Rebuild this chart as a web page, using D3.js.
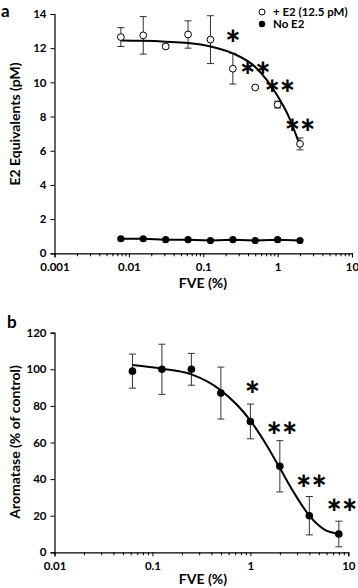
<!DOCTYPE html>
<html>
<head>
<meta charset="utf-8">
<script src="https://cdn.jsdelivr.net/npm/d3@7"></script>
<style>
  html, body { margin: 0; padding: 0; background: #fff; }
  svg { display: block; font-family: Lato, "Open Sans", sans-serif; font-weight: bold; }
</style>
</head>
<body>
<div id="chart"></div>
<script>
// Panel a: E2 equivalents vs FVE dose
const doseA = [0.0078, 0.0156, 0.03125, 0.0625, 0.125, 0.25, 0.5, 1, 2];
const withE2 = [12.65, 12.75, 12.1, 12.8, 12.5, 10.8, 9.7, 8.7, 6.4];
const withE2Err = [0.55, 1.1, 0.1, 0.8, 1.4, 0.9, 0.05, 0.2, 0.35];
const noE2 = [0.85, 0.85, 0.8, 0.8, 0.75, 0.8, 0.75, 0.8, 0.75];
// fitted curve
const fitAx = [0.0078, 0.0156, 0.03125, 0.0625, 0.125, 0.25, 0.5, 1, 1.41, 2];
const fitAy = [12.45, 12.43, 12.38, 12.3, 12.1, 11.7, 10.9, 9.2, 8.0, 6.3];
const starsA = [
  { x: 0.25, y: 12.6, t: "*" },
  { x: 0.5, y: 10.7, t: "**" },
  { x: 1.07, y: 9.67, t: "**" },
  { x: 2.0, y: 7.4, t: "**" }
];
const ticksAy = [0, 2, 4, 6, 8, 10, 12, 14];
const ticksAx = [0.001, 0.01, 0.1, 1, 10];

// Panel b: aromatase activity vs FVE dose
const doseB = [0.0625, 0.125, 0.25, 0.5, 1, 2, 4, 8];
const aromatase = [99, 100, 100, 87, 71.5, 47, 20, 10];
const aromataseErr = [9.3, 13.7, 8.7, 14.2, 9.5, 14, 10.5, 7];
const fitBx = [0.0625, 0.125, 0.25, 0.5, 1, 1.41, 2, 2.83, 4, 5.66, 8];
const fitBy = [102.3, 100.3, 97.2, 88.5, 72, 60, 46, 32, 20, 12.5, 10];
const starsB = [
  { x: 1.05, y: 89, t: "*" },
  { x: 2.1, y: 67, t: "**" },
  { x: 4.2, y: 38, t: "**" },
  { x: 8.6, y: 25, t: "**" }
];
const ticksBy = [0, 20, 40, 60, 80, 100, 120];
const ticksBx = [0.01, 0.1, 1, 10];

const W = 358, H = 588;
const svg = d3.select("#chart").append("svg")
  .attr("width", W).attr("height", H);

function fmt(v) { return String(v); }

function panel(cfg) {
  const g = svg.append("g");
  const x = d3.scaleLog().domain(cfg.xDomain).range(cfg.xRange);
  const y = d3.scaleLinear().domain(cfg.yDomain).range(cfg.yRange);

  // y axis
  g.append("g")
    .attr("transform", `translate(${cfg.xRange[0]},0)`)
    .call(d3.axisLeft(y).tickValues(cfg.yTicks).tickSize(4).tickPadding(4).tickFormat(fmt));
  // x axis with minor log ticks
  const minor = [];
  const [d0, d1] = cfg.xDomain;
  for (let e = Math.round(Math.log10(d0)); e < Math.round(Math.log10(d1)); e++) {
    for (let m = 2; m <= 9; m++) minor.push(m * Math.pow(10, e));
  }
  g.append("g")
    .attr("transform", `translate(0,${cfg.yRange[0]})`)
    .call(d3.axisBottom(x).tickValues(cfg.xTicks).tickSize(4).tickPadding(6).tickFormat(fmt));
  g.append("g")
    .attr("transform", `translate(0,${cfg.yRange[0]})`)
    .call(d3.axisBottom(x).tickValues(minor).tickSize(3).tickFormat(""))
    .select(".domain").remove();

  g.selectAll(".domain").attr("stroke", "#000").attr("stroke-width", 1.2);
  g.selectAll(".tick line").attr("stroke", "#000");
  g.selectAll(".tick text").attr("font-size", 11.5).attr("font-weight", "bold")
    .attr("font-family", "Lato, sans-serif").attr("fill", "#000");

  // axis titles
  g.append("text")
    .attr("x", cfg.xLabelX)
    .attr("y", cfg.xLabelY)
    .attr("text-anchor", "middle")
    .attr("font-size", 14)
    .text("FVE (%)");
  g.append("text")
    .attr("transform", `translate(${cfg.yLabelX},${cfg.yLabelY}) rotate(-90)`)
    .attr("text-anchor", "middle")
    .attr("font-size", 14)
    .text(cfg.yLabel);
  g.append("text")
    .attr("x", cfg.letterX).attr("y", cfg.letterY)
    .attr("font-size", 17)
    .text(cfg.letter);

  return { g, x, y };
}

function errorBars(p, xs, ys, errs) {
  const eb = p.g.append("g").attr("stroke", "#333").attr("stroke-width", 1);
  xs.forEach((d, i) => {
    const cx = p.x(d);
    const top = p.y(ys[i] + errs[i]), bot = p.y(ys[i] - errs[i]);
    eb.append("line").attr("x1", cx).attr("x2", cx).attr("y1", top).attr("y2", bot);
    eb.append("line").attr("x1", cx - 3.5).attr("x2", cx + 3.5).attr("y1", top).attr("y2", top);
    eb.append("line").attr("x1", cx - 3.5).attr("x2", cx + 3.5).attr("y1", bot).attr("y2", bot);
  });
}

function fitLine(p, xs, ys, curve) {
  const line = d3.line()
    .x(d => p.x(d[0])).y(d => p.y(d[1]))
    .curve(curve);
  p.g.append("path")
    .datum(xs.map((d, i) => [d, ys[i]]))
    .attr("d", line)
    .attr("fill", "none").attr("stroke", "#000").attr("stroke-width", 2);
}

function stars(p, list) {
  p.g.selectAll(null).data(list).enter().append("text")
    .attr("x", d => p.x(d.x)).attr("y", d => p.y(d.y) + 19)
    .attr("text-anchor", "middle")
    .attr("font-size", 36)
    .attr("font-weight", 900)
    .attr("font-family", "Lato, sans-serif")
    .text(d => d.t);
}

// ---- panel a ----
const pa = panel({
  xDomain: [0.001, 10], xRange: [54.5, 352],
  yDomain: [0, 14], yRange: [253.3, 14],
  yTicks: ticksAy, xTicks: ticksAx,
  xLabelX: 203, xLabelY: 288,
  yLabel: "E2 Equivalents (pM)", yLabelX: 20, yLabelY: 124,
  letter: "a", letterX: 1, letterY: 17
});
errorBars(pa, doseA, withE2, withE2Err);
fitLine(pa, fitAx, fitAy, d3.curveMonotoneX);
fitLine(pa, doseA, noE2, d3.curveLinear);
stars(pa, starsA);
pa.g.selectAll(".open").data(doseA).enter().append("circle")
  .attr("cx", d => pa.x(d)).attr("cy", (d, i) => pa.y(withE2[i]))
  .attr("r", 3.4).attr("fill", "#fff").attr("stroke", "#000").attr("stroke-width", 1);
pa.g.selectAll(".filled").data(doseA).enter().append("circle")
  .attr("cx", d => pa.x(d)).attr("cy", (d, i) => pa.y(noE2[i]))
  .attr("r", 3.6).attr("fill", "#000");

// legend
const leg = svg.append("g").attr("font-size", 11.5);
leg.append("circle").attr("cx", 262).attr("cy", 12).attr("r", 3).attr("fill", "#fff").attr("stroke", "#000");
leg.append("text").attr("x", 273).attr("y", 16).text("+ E2 (12.5 pM)");
leg.append("circle").attr("cx", 262).attr("cy", 24).attr("r", 3.2).attr("fill", "#000");
leg.append("text").attr("x", 273).attr("y", 28).text("No E2");

// ---- panel b ----
const pb = panel({
  xDomain: [0.01, 10], xRange: [54.5, 348.3],
  yDomain: [0, 120], yRange: [552.3, 332.7],
  yTicks: ticksBy, xTicks: ticksBx,
  xLabelX: 203, xLabelY: 584,
  yLabel: "Aromatase (% of control)", yLabelX: 20, yLabelY: 442,
  letter: "b", letterX: 7, letterY: 328
});
errorBars(pb, doseB, aromatase, aromataseErr);
fitLine(pb, fitBx, fitBy, d3.curveMonotoneX);
stars(pb, starsB);
pb.g.selectAll(".filled").data(doseB).enter().append("circle")
  .attr("cx", d => pb.x(d)).attr("cy", (d, i) => pb.y(aromatase[i]))
  .attr("r", 3.8).attr("fill", "#000");
</script>
</body>
</html>
